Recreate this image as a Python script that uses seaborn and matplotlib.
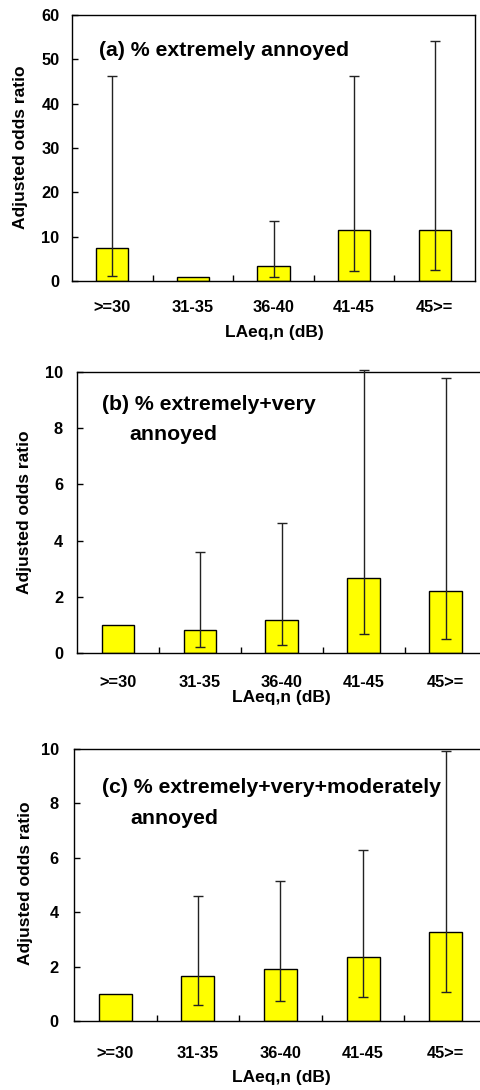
import matplotlib
matplotlib.use("Agg")
import matplotlib.pyplot as plt
import seaborn as sns
import pandas as pd
import numpy as np

sns.set_theme(style="white")
plt.rcParams['font.family'] = ['Liberation Sans', 'DejaVu Sans']
plt.rcParams['font.weight'] = 'bold'

categories = [">=30", "31-35", "36-40", "41-45", "45>="]

# (a) % extremely annoyed
a_or = [7.4, 1.0, 3.4, 11.6, 11.6]
a_lo = [1.2, np.nan, 0.8, 2.3, 2.4]
a_hi = [46.2, np.nan, 13.6, 46.2, 54.2]

# (b) % extremely+very annoyed
b_or = [1.0, 0.82, 1.17, 2.67, 2.2]
b_lo = [np.nan, 0.2, 0.3, 0.69, 0.5]
b_hi = [np.nan, 3.6, 4.62, 10.06, 9.8]

# (c) % extremely+very+moderately annoyed
c_or = [1.0, 1.64, 1.93, 2.34, 3.26]
c_lo = [np.nan, 0.58, 0.73, 0.87, 1.06]
c_hi = [np.nan, 4.58, 5.13, 6.27, 9.94]

y_label = "Adjusted odds ratio"
x_label = "LAeq,n (dB)"

TICK_FS = 11.8
LABEL_FS = 12.5
ANN_FS = 15.3

panels = [
    dict(vals=a_or, lo=a_lo, hi=a_hi, ymax=60, yticks=[0, 10, 20, 30, 40, 50, 60],
         rect=[0.1497, 0.7422, 0.838, 0.244],
         texts=[("(a) % extremely annoyed", 0.067, 0.868)],
         ylc=(-0.109, 0.504), xlc=(0.501, -0.165), pad=14, ypad=9),
    dict(vals=b_or, lo=b_lo, hi=b_hi, ymax=10, yticks=[0, 2, 4, 6, 8, 10],
         rect=[0.160, 0.4009, 0.852, 0.2578],
         texts=[("(b) % extremely+very", 0.061, 0.886), ("annoyed", 0.129, 0.776)],
         ylc=(-0.110, 0.50), xlc=(0.50, -0.132), pad=16, ypad=10),
    dict(vals=c_or, lo=c_lo, hi=c_hi, ymax=10, yticks=[0, 2, 4, 6, 8, 10],
         rect=[0.1538, 0.0633, 0.8586, 0.2495],
         texts=[("(c) % extremely+very+moderately", 0.068, 0.857), ("annoyed", 0.136, 0.746)],
         ylc=(-0.099, 0.507), xlc=(0.503, -0.18), pad=18, ypad=11),
]

fig = plt.figure(figsize=(4.81, 10.9), dpi=100)

for p in panels:
    ax = fig.add_axes(p["rect"])
    df = pd.DataFrame({"cat": categories, "val": p["vals"]})
    sns.barplot(data=df, x="cat", y="val", ax=ax, color="#FFFF00",
                edgecolor="black", linewidth=1.0, width=0.4, saturation=1)
    x = np.arange(len(categories))
    vals = np.array(p["vals"])
    lo = np.array(p["lo"])
    hi = np.array(p["hi"])
    mask = ~np.isnan(lo)
    yerr = np.vstack([vals[mask] - lo[mask], hi[mask] - vals[mask]])
    ax.errorbar(x[mask], vals[mask], yerr=yerr, fmt="none", ecolor="#222222",
                elinewidth=1.0, capsize=3.5, capthick=1.0, clip_on=False, zorder=5)
    ax.set_xlim(-0.5, len(categories) - 0.5)
    ax.set_ylim(0, p["ymax"])
    ax.set_yticks(p["yticks"])
    ax.set_yticklabels([str(t) for t in p["yticks"]], fontsize=TICK_FS, fontweight="bold")
    ax.set_xticks(x)
    ax.set_xticklabels(categories, fontsize=TICK_FS, fontweight="bold")
    ax.set_xticks(np.arange(0.5, len(categories) - 0.5, 1.0), minor=True)
    ax.tick_params(axis="x", which="major", length=0, pad=p["pad"], colors="black")
    ax.tick_params(axis="x", which="minor", direction="in", length=4, width=1, color="black", bottom=True)
    ax.tick_params(axis="y", which="major", direction="in", length=4, width=1, color="black",
                   left=True, pad=p["ypad"], labelcolor="black")
    for s in ax.spines.values():
        s.set_visible(True)
        s.set_color("black")
        s.set_linewidth(1.0)
    ax.set_ylabel(y_label, fontsize=LABEL_FS, fontweight="bold", color="black")
    ax.yaxis.set_label_coords(*p["ylc"])
    ax.set_xlabel(x_label, fontsize=LABEL_FS, fontweight="bold", color="black")
    ax.xaxis.set_label_coords(*p["xlc"])
    for t, tx, ty in p["texts"]:
        ax.text(tx, ty, t, transform=ax.transAxes, fontsize=ANN_FS, fontweight="bold",
                ha="left", va="center", color="black")

fig.savefig("out.png", dpi=100)
